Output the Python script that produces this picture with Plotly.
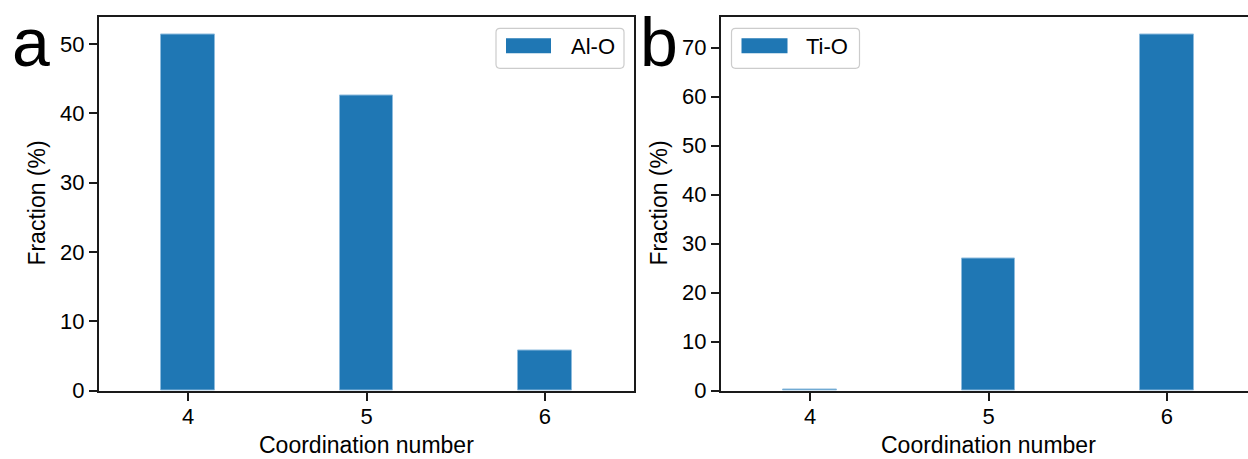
import plotly.graph_objects as go

# ---- data ----
coord_numbers = [4, 5, 6]
al_o_fraction = [51.4, 42.6, 5.8]
ti_o_fraction = [0.3, 27.0, 72.7]
series_names = ["Al-O", "Ti-O"]
panel_letters = ["a", "b"]
x_title = "Coordination number"
y_title = "Fraction (%)"
yticks_al = [0, 10, 20, 30, 40, 50]
yticks_ti = [0, 10, 20, 30, 40, 50, 60, 70]

W, H = 1248, 459
FONT = "Liberation Sans, Arial, Helvetica, sans-serif"
BAR_COLOR = "#1f77b4"
AXIS_COLOR = "#1a1a1a"
FS = 22
FS_TITLE = 23


def px(x):
    return x / W


def py(y):
    return 1 - y / H


# panel frames in pixels
left_a, right_a = 99, 634
left_b = 721
top, bottom = 16.5, 390.7
unit = (right_a - left_a) / 3.0  # pixels per coordination step

fig = go.Figure()

fig.add_trace(go.Bar(
    x=coord_numbers, y=al_o_fraction, width=0.3, name=series_names[0],
    marker=dict(color=BAR_COLOR, line=dict(color="#8dbbdd", width=1)),
    xaxis="x", yaxis="y", showlegend=False,
))
fig.add_trace(go.Bar(
    x=coord_numbers, y=ti_o_fraction, width=0.3, name=series_names[1],
    marker=dict(color=BAR_COLOR, line=dict(color="#8dbbdd", width=1)),
    xaxis="x2", yaxis="y2", showlegend=False,
))

axis_common = dict(
    showline=True, linecolor=AXIS_COLOR, linewidth=2,
    ticks="outside", ticklen=8, tickwidth=2, tickcolor=AXIS_COLOR,
    showgrid=False, zeroline=False, automargin=False,
    tickfont=dict(family=FONT, size=FS, color="black"),
)

fig.update_layout(
    width=W, height=H,
    margin=dict(l=0, r=0, t=0, b=0, autoexpand=False),
    paper_bgcolor="white", plot_bgcolor="white",
    bargap=0,
    xaxis=dict(domain=[px(left_a), px(right_a)], range=[3.5, 6.5],
               tickvals=coord_numbers, mirror=True, anchor="y",
               ticklabelstandoff=-3, **axis_common),
    yaxis=dict(domain=[py(bottom), py(top)],
               range=[0, 1.05 * max(al_o_fraction)],
               tickvals=yticks_al, mirror=True, anchor="x", **axis_common),
    xaxis2=dict(domain=[px(left_b), 1.0],
                range=[3.5, 3.5 + (W - left_b) / unit],
                tickvals=coord_numbers, mirror=True, anchor="y2",
                ticklabelstandoff=-3, **axis_common),
    yaxis2=dict(domain=[py(bottom), py(top)],
                range=[0, 1.05 * max(ti_o_fraction)],
                tickvals=yticks_ti, mirror=False, anchor="x2", **axis_common),
)


def rounded_rect(x0, y0, x1, y1, r):
    pts = [
        ("M", (x0 + r, y0)), ("L", (x1 - r, y0)), ("Q", (x1, y0), (x1, y0 + r)),
        ("L", (x1, y1 - r)), ("Q", (x1, y1), (x1 - r, y1)),
        ("L", (x0 + r, y1)), ("Q", (x0, y1), (x0, y1 - r)),
        ("L", (x0, y0 + r)), ("Q", (x0, y0), (x0 + r, y0)),
    ]
    parts = []
    for item in pts:
        cmd = item[0]
        coords = " ".join(f"{px(x):.5f},{py(y):.5f}" for x, y in item[1:])
        parts.append(f"{cmd} {coords}")
    return " ".join(parts) + " Z"


shapes = []
annotations = []

# legends (frame, patch, label) for each panel
legend_boxes = [
    dict(box=(496, 28.3, 624, 68.3), patch=(506, 38.3, 551, 53.3), text_x=569),
    dict(box=(731.5, 28.3, 859.5, 68.3), patch=(741.5, 38.3, 787.5, 53.3), text_x=804),
]
for lg, name in zip(legend_boxes, series_names):
    x0, y0, x1, y1 = lg["box"]
    shapes.append(dict(type="path", xref="paper", yref="paper",
                       path=rounded_rect(x0, y0, x1, y1, 4),
                       fillcolor="rgba(255,255,255,0.8)",
                       line=dict(color="#cccccc", width=1.2), layer="above"))
    p0, q0, p1, q1 = lg["patch"]
    shapes.append(dict(type="rect", xref="paper", yref="paper",
                       x0=px(p0), x1=px(p1), y0=py(q1), y1=py(q0),
                       fillcolor=BAR_COLOR, line=dict(width=0), layer="above"))
    annotations.append(dict(text=name, xref="paper", yref="paper",
                            x=px(lg["text_x"]), y=py(46), xanchor="left",
                            yanchor="middle", showarrow=False,
                            font=dict(family=FONT, size=FS, color="black")))

# axis titles
for cx, ty_x in [((left_a + right_a) / 2, 37), ((left_b + left_b + 3 * unit) / 2, 659)]:
    annotations.append(dict(text=x_title, xref="paper", yref="paper",
                            x=px(cx), y=py(445), xanchor="center", yanchor="middle",
                            showarrow=False,
                            font=dict(family=FONT, size=FS_TITLE, color="black")))
    annotations.append(dict(text=y_title, xref="paper", yref="paper",
                            x=px(ty_x), y=py((top + bottom) / 2), textangle=-90,
                            xanchor="center", yanchor="middle", showarrow=False,
                            font=dict(family=FONT, size=FS_TITLE, color="black")))

# panel letters
for letter, lx in zip(panel_letters, [10, 638]):
    annotations.append(dict(text=letter, xref="paper", yref="paper",
                            x=px(lx), y=py(42), xanchor="left", yanchor="middle",
                            showarrow=False,
                            font=dict(family=FONT, size=68, color="black")))

fig.update_layout(shapes=shapes, annotations=annotations)

fig.write_html("out.html")
